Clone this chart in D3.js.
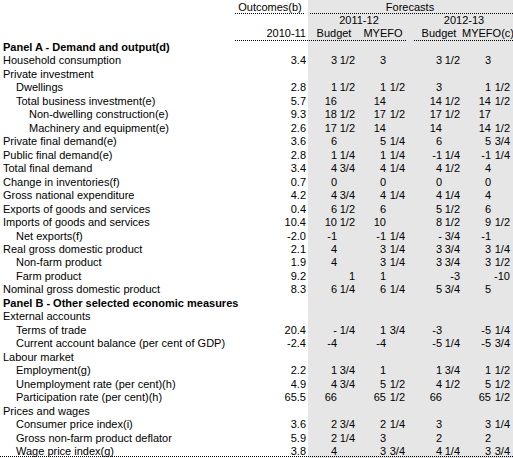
<!DOCTYPE html>
<html><head><meta charset="utf-8">
<script src="https://cdn.jsdelivr.net/npm/d3@7"></script>
<style>body{margin:0;background:#fff}svg{display:block;font-family:"Liberation Sans",Arial,sans-serif;font-size:11px}</style>
</head><body><svg id="c" width="513" height="458"></svg>
<script>
const labels=["Panel A - Demand and output(d)","Household consumption","Private investment","Dwellings","Total business investment(e)","Non-dwelling construction(e)","Machinery and equipment(e)","Private final demand(e)","Public final demand(e)","Total final demand","Change in inventories(f)","Gross national expenditure","Exports of goods and services","Imports of goods and services","Net exports(f)","Real gross domestic product","Non-farm product","Farm product","Nominal gross domestic product","Panel B - Other selected economic measures","External accounts","Terms of trade","Current account balance (per cent of GDP)","Labour market","Employment(g)","Unemployment rate (per cent)(h)","Participation rate (per cent)(h)","Prices and wages","Consumer price index(i)","Gross non-farm product deflator","Wage price index(g)"];
const indent=[0,0,0,1,1,2,2,0,0,0,0,0,0,0,1,0,1,1,0,0,0,1,1,0,1,1,1,0,1,1,1];
const bold=[1,0,0,0,0,0,0,0,0,0,0,0,0,0,0,0,0,0,0,1,0,0,0,0,0,0,0,0,0,0,0];
const outcomes=["","3.4","","2.8","5.7","9.3","2.6","3.6","2.8","3.4","0.7","4.2","0.4","10.4","-2.0","2.1","1.9","9.2","8.3","","","20.4","-2.4","","2.2","4.9","65.5","","3.6","5.9","3.8"];
const budget1112=["","3 1/2","","1 1/2","16","18 1/2","17 1/2","6","1 1/4","4 3/4","0","4 3/4","6 1/2","10 1/2","-1","4","4","r:1","6 1/4","","","- 1/4","-4","","1 3/4","4 3/4","66","","2 3/4","2 1/4","4"];
const myefo1112=["","3","","1 1/2","14","17 1/2","14","5 1/4","1 1/4","4 1/4","0","4 1/4","6","10","-1 1/4","3 1/4","3 1/4","1","6 1/4","","","1 3/4","-4","","1","5 1/2","65 1/2","","2 1/4","3","3 3/4"];
const budget1213=["","3 1/2","","3","14 1/2","17 1/2","14","6","-1 1/4","4 1/2","0","4 1/4","5 1/2","8 1/2","- 3/4","3 3/4","3 3/4","r:-3","5 3/4","","","-3","-5 1/4","","1 3/4","4 1/2","66","","3","2","4 1/4"];
const myefo1213=["","3","","1 1/2","14 1/2","17","14 1/2","5 3/4","-1 1/4","4","0","4","6","9 1/2","-1","3 1/4","3 1/2","r:-10","5","","","-5 1/4","-5 3/4","","1 1/2","5 1/2","65 1/2","","3 1/4","2","3 3/4"];
const colHeads=["Budget","MYEFO","Budget","MYEFO(c)"];
const years=["2011-12","2012-13"];

const svg=d3.select("#c");
svg.append("rect").attr("x",308).attr("y",0).attr("width",205).attr("height",458).attr("fill","#e6e6e6");
const y=d3.scalePoint().domain(d3.range(labels.length)).range([47,451]);
const cols=[{v:budget1112,e:337,f:355},{v:myefo1112,e:386,f:405},{v:budget1213,e:442,f:460},{v:myefo1213,e:491,f:510}];
const rows=svg.append("g");
labels.forEach((l,i)=>{
  const yy=y(i)+4;
  rows.append("text").attr("x",3+indent[i]*13).attr("y",yy).attr("font-weight",bold[i]?"bold":null).text(l);
  if(outcomes[i]) rows.append("text").attr("x",306).attr("y",yy).attr("text-anchor","end").text(outcomes[i]);
  cols.forEach(c=>{
    let s=c.v[i]; if(!s) return;
    if(s.startsWith("r:")){rows.append("text").attr("x",c.f).attr("y",yy).attr("text-anchor","end").text(s.slice(2));return;}
    const sp=s.indexOf(" ");
    const ip=sp<0?s:s.slice(0,sp), fr=sp<0?"":s.slice(sp+1);
    rows.append("text").attr("x",c.e).attr("y",yy).attr("text-anchor","end").text(ip);
    if(fr) rows.append("text").attr("x",c.f).attr("y",yy).attr("text-anchor","end").text(fr);
  });
});
const h=svg.append("g");
h.append("text").attr("x",270).attr("y",11).attr("text-anchor","middle").text("Outcomes(b)");
h.append("text").attr("x",410).attr("y",11).attr("text-anchor","middle").text("Forecasts");
h.append("text").attr("x",359).attr("y",24).attr("text-anchor","middle").text(years[0]);
h.append("text").attr("x",464).attr("y",24).attr("text-anchor","middle").text(years[1]);
h.append("text").attr("x",306).attr("y",37).attr("text-anchor","end").text("2010-11");
[[334],[383],[439],[488]].forEach((p,i)=>h.append("text").attr("x",p[0]).attr("y",37).attr("text-anchor","middle").text(colHeads[i]));
const dl=(x1,x2,yy)=>h.append("line").attr("x1",x1).attr("x2",x2).attr("y1",yy).attr("y2",yy).attr("stroke","#000").attr("stroke-dasharray","1,1");
dl(235,305,13.5);dl(310,513,13.5);dl(235,407,40.5);dl(414,513,40.5);dl(0,513,456.5);
</script></body></html>
